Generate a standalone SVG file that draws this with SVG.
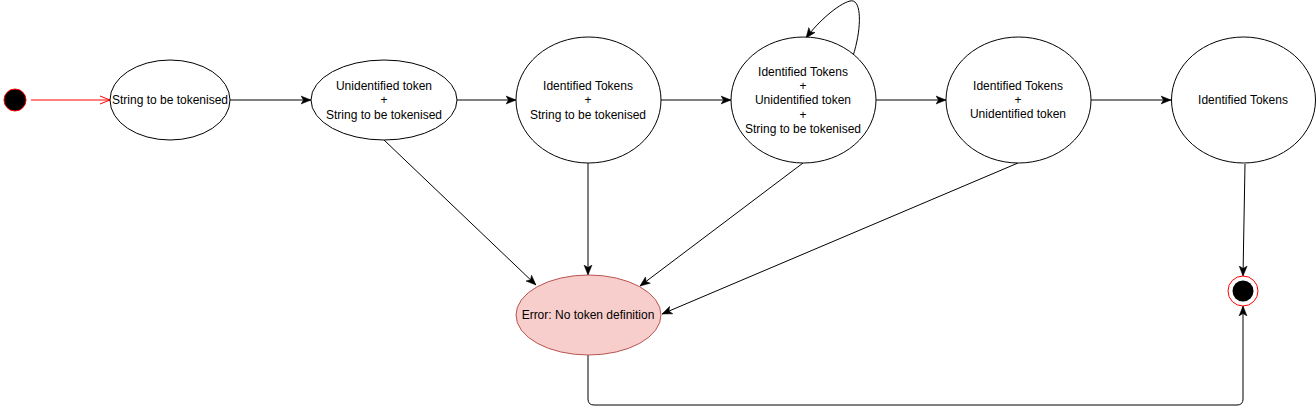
<svg xmlns="http://www.w3.org/2000/svg" width="1316" height="416" viewBox="0 0 1316 416">
<style>
.st{fill:#fff;stroke:#000;stroke-width:1}
.err{fill:#f8cecc;stroke:#b85450;stroke-width:1}
.t{font-family:"Liberation Sans",Arial,sans-serif;font-size:12px;fill:#000;text-anchor:middle;dominant-baseline:central}
.e{fill:none;stroke:#000;stroke-width:1}
</style>
<defs>
<marker id="blk" viewBox="0 0 10 10" refX="10" refY="5" markerWidth="10" markerHeight="10" markerUnits="userSpaceOnUse" orient="auto">
<path d="M0,1 L10,5 L0,9 L2.5,5 Z" fill="#000" stroke="#000" stroke-width="0.5"/>
</marker>
<marker id="open" viewBox="0 0 10 10" refX="10" refY="5" markerWidth="10" markerHeight="10" markerUnits="userSpaceOnUse" orient="auto">
<path d="M0,1 L10,5 L0,9" fill="none" stroke="#ff0000" stroke-width="1"/>
</marker>
</defs>
<g id="connectors">
<line x1="31" y1="100" x2="110" y2="100" stroke="#ff0000" stroke-width="1" marker-end="url(#open)"/>
<line class="e" x1="230" y1="100" x2="311" y2="100" marker-end="url(#blk)"/>
<line class="e" x1="457" y1="100" x2="516" y2="100" marker-end="url(#blk)"/>
<line class="e" x1="661" y1="100" x2="731" y2="100" marker-end="url(#blk)"/>
<line class="e" x1="876" y1="100" x2="946" y2="100" marker-end="url(#blk)"/>
<line class="e" x1="1091" y1="100" x2="1171" y2="100" marker-end="url(#blk)"/>
<line class="e" x1="1245" y1="164" x2="1243" y2="276" marker-end="url(#blk)"/>
<path class="e" d="M588,355 V399 Q588,405 594,405 H1237 Q1243,405 1243,399 V306" marker-end="url(#blk)"/>
<line class="e" x1="384" y1="140" x2="536" y2="285" marker-end="url(#blk)"/>
<line class="e" x1="588" y1="163" x2="588" y2="275" marker-end="url(#blk)"/>
<line class="e" x1="803" y1="163" x2="640" y2="286" marker-end="url(#blk)"/>
<line class="e" x1="1018" y1="163" x2="662" y2="314" marker-end="url(#blk)"/>
<path class="e" d="M853,56 C862,28 862,-2 850,1 C838,4 818,22 806,38" marker-end="url(#blk)"/>
</g>
<g id="start">
<circle cx="15" cy="100" r="11" fill="#000" stroke="#ff0000" stroke-width="1"/>
</g>
<g id="s1">
<ellipse class="st" cx="170" cy="100" rx="60" ry="40"/>
<text class="t" x="170" y="100">String to be tokenised</text>
</g>
<g id="s2">
<ellipse class="st" cx="384" cy="100" rx="73" ry="40"/>
<text class="t" x="384" y="86">Unidentified token</text>
<text class="t" x="384" y="100">+</text>
<text class="t" x="384" y="115">String to be tokenised</text>
</g>
<g id="s3">
<ellipse class="st" cx="588.5" cy="100" rx="72.5" ry="63"/>
<text class="t" x="588" y="86">Identified Tokens</text>
<text class="t" x="588" y="100">+</text>
<text class="t" x="588" y="115">String to be tokenised</text>
</g>
<g id="s4">
<ellipse class="st" cx="803.5" cy="100" rx="72.5" ry="63"/>
<text class="t" x="803" y="72">Identified Tokens</text>
<text class="t" x="803" y="86">+</text>
<text class="t" x="803" y="100">Unidentified token</text>
<text class="t" x="803" y="115">+</text>
<text class="t" x="803" y="129">String to be tokenised</text>
</g>
<g id="s5">
<ellipse class="st" cx="1018.5" cy="100" rx="72.5" ry="63"/>
<text class="t" x="1018" y="86">Identified Tokens</text>
<text class="t" x="1018" y="100">+</text>
<text class="t" x="1018" y="114">Unidentified token</text>
</g>
<g id="s6">
<ellipse class="st" cx="1243.5" cy="100" rx="72" ry="63"/>
<text class="t" x="1243" y="100">Identified Tokens</text>
</g>
<g id="error">
<ellipse class="err" cx="588.5" cy="315" rx="72.5" ry="40"/>
<text class="t" x="588" y="315">Error: No token definition</text>
</g>
<g id="end">
<circle cx="1243" cy="291" r="15" fill="#fff" stroke="#ff0000" stroke-width="1"/>
<circle cx="1243" cy="291" r="10.5" fill="#000"/>
</g>
</svg>
